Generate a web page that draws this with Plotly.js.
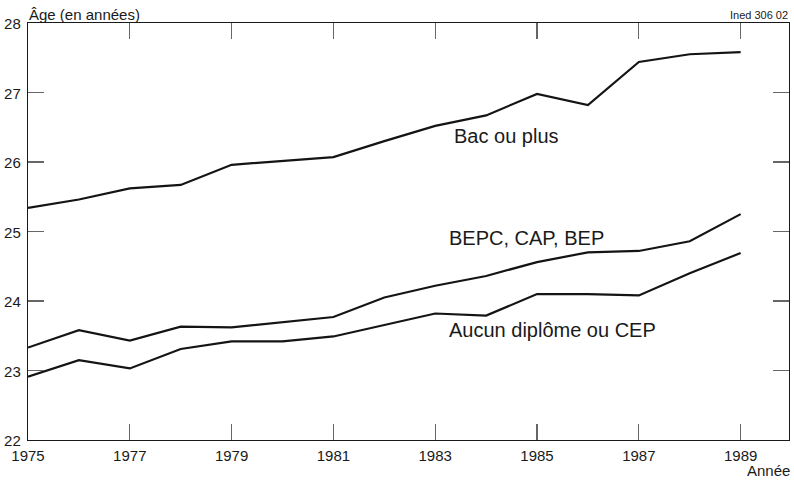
<!DOCTYPE html>
<html>
<head>
<meta charset="utf-8">
<script src="https://cdn.plot.ly/plotly-3.0.1.min.js"></script>
<style>html,body{margin:0;padding:0;background:#fff;}#chart{width:794px;height:480px;}</style>
</head>
<body>
<div id="chart"></div>
<script>
const years = [1975,1976,1977,1978,1979,1980,1981,1982,1983,1984,1985,1986,1987,1988,1989];
const bacOuPlus = [25.34,25.46,25.62,25.67,25.96,26.02,26.07,26.30,26.52,26.67,26.98,26.82,27.44,27.55,27.58];
const bepcCapBep = [23.33,23.58,23.43,23.63,23.62,23.70,23.77,24.05,24.22,24.36,24.56,24.70,24.72,24.86,25.25];
const aucunDiplome = [22.91,23.15,23.03,23.31,23.42,23.42,23.49,23.66,23.82,23.79,24.10,24.10,24.08,24.40,24.69];
const xTicks = [1975,1977,1979,1981,1983,1985,1987,1989];
const yTicks = [22,23,24,25,26,27,28];
const seriesNames = ["Bac ou plus","BEPC, CAP, BEP","Aucun diplôme ou CEP"];

const FONT = "Liberation Sans, Arial, Helvetica, sans-serif";
const INK = "#1a1a1a";
const lineStyle = {color:"#141414", width:2.2};

const traces = [bacOuPlus, bepcCapBep, aucunDiplome].map((ys,i)=>({
  x: years, y: ys, type:"scatter", mode:"lines", name: seriesNames[i],
  line: lineStyle, hoverinfo:"skip"
}));

const layout = {
  width:794, height:480,
  margin:{l:28, r:5, t:23, b:40},
  paper_bgcolor:"#fff", plot_bgcolor:"#fff",
  showlegend:false,
  font:{family:FONT, size:15, color:INK},
  xaxis:{
    range:[1975,1989.95], tickvals:xTicks, ticktext:xTicks.map(String),
    ticks:"inside", ticklen:16, tickcolor:"#666", tickwidth:1.2,
    showline:true, linecolor:INK, linewidth:1.2, mirror:"ticks",
    showgrid:false, zeroline:false, ticklabelstandoff:2,
    tickfont:{family:FONT, size:15, color:INK}
  },
  yaxis:{
    range:[22,28], tickvals:yTicks, ticktext:yTicks.map(String),
    ticks:"inside", ticklen:16, tickcolor:"#666", tickwidth:1.2,
    showline:true, linecolor:INK, linewidth:1.2, mirror:"ticks",
    showgrid:false, zeroline:false, ticklabelstandoff:3, ticklabelshift:1,
    tickfont:{family:FONT, size:15, color:INK}
  },
  annotations:[
    {text:"Bac ou plus", x:1983.33, y:26.37, xref:"x", yref:"y", xanchor:"left", yanchor:"middle", showarrow:false, font:{family:FONT, size:20, color:INK}},
    {text:"BEPC, CAP, BEP", x:1983.24, y:24.91, xref:"x", yref:"y", xanchor:"left", yanchor:"middle", showarrow:false, font:{family:FONT, size:20, color:INK}},
    {text:"Aucun diplôme ou CEP", x:1983.24, y:23.58, xref:"x", yref:"y", xanchor:"left", yanchor:"middle", showarrow:false, font:{family:FONT, size:20, color:INK}},
    {text:"Âge (en années)", x:0, y:1, xref:"paper", yref:"paper", xanchor:"left", yanchor:"bottom", yshift:-2, xshift:-1, showarrow:false, font:{family:FONT, size:15, color:INK}},
    {text:"Année", x:1, y:0, xref:"paper", yref:"paper", xanchor:"right", yanchor:"top", yshift:-20, xshift:3, showarrow:false, font:{family:FONT, size:15, color:INK}},
    {text:"Ined 306 02", x:1, y:1, xref:"paper", yref:"paper", xanchor:"right", yanchor:"bottom", yshift:0, xshift:1, showarrow:false, font:{family:FONT, size:11, color:INK}}
  ]
};

Plotly.newPlot("chart", traces, layout, {staticPlot:true, displayModeBar:false});
</script>
</body>
</html>
